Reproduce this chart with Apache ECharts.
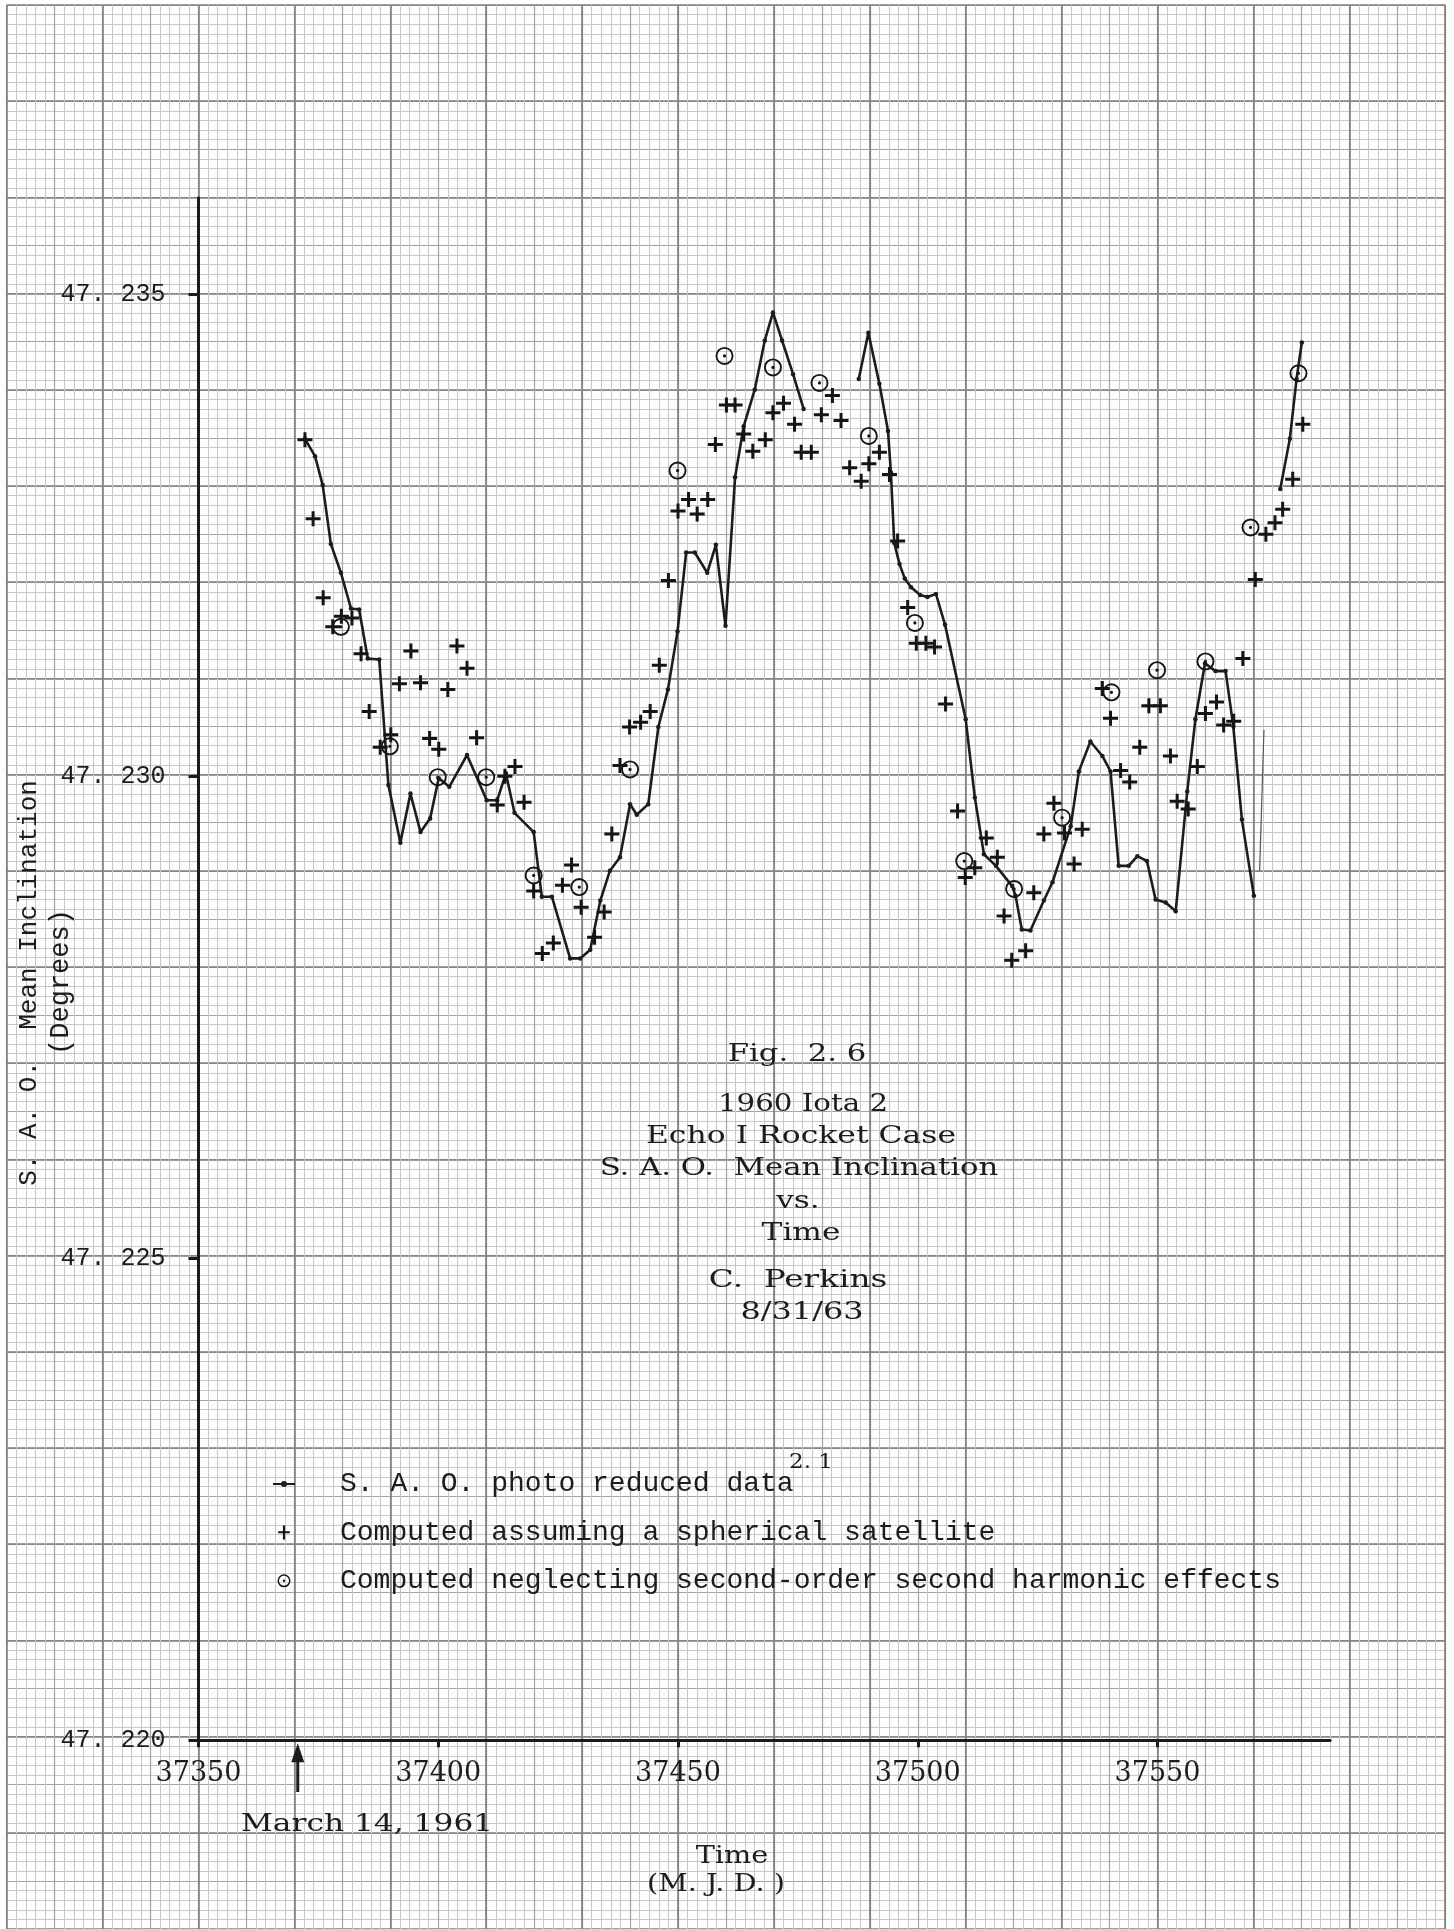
<!DOCTYPE html>
<html>
<head>
<meta charset="utf-8">
<script src="https://cdn.jsdelivr.net/npm/echarts@6/dist/echarts.min.js"></script>
<style>
html,body{margin:0;padding:0;background:#fdfdfb;}
#chart{width:1454px;height:1929px;}
</style>
</head>
<body>
<div id="chart"></div>
<script>
// ---------------- data (MJD, inclination in degrees) ----------------
const seriesNames = [
  'S. A. O. photo reduced data',
  'Computed assuming a spherical satellite',
  'Computed neglecting second-order second harmonic effects'
];

const saoSeg1 = [
  [37372.2,47.2335],[37374.3,47.23332],[37375.9,47.23302],[37377.6,47.23241],[37379.7,47.23211],
  [37381.8,47.23174],[37383.5,47.23173],[37385.3,47.23122],[37387.7,47.23121],[37389.6,47.22991],
  [37392.1,47.22931],[37394.2,47.22982],[37396.3,47.22942],[37398.3,47.22956],[37400.1,47.22998],
  [37402.3,47.22989],[37406.0,47.23022],[37410.1,47.22975],[37412.3,47.22975],[37414.1,47.23003],
  [37415.9,47.22962],[37419.9,47.22942],[37421.6,47.22875],[37423.7,47.22875],[37427.5,47.22811],
  [37429.6,47.22811],[37431.7,47.2282],[37433.8,47.22871],[37435.8,47.22902],[37437.9,47.22916],
  [37440.0,47.22971],[37441.4,47.2296],[37443.8,47.22971],[37445.9,47.23051],[37447.9,47.2309],
  [37449.9,47.2315],[37451.7,47.23232],[37453.5,47.23232],[37456.1,47.23211],[37457.9,47.2324],
  [37459.9,47.23156],[37461.9,47.2331],[37463.7,47.23363],[37466.0,47.23401],[37468.1,47.23452],
  [37469.8,47.23481],[37471.7,47.23452],[37474.0,47.23417],[37476.2,47.23381]
];

const saoSeg2 = [
  [37487.7,47.23412],[37489.7,47.2346],[37492.0,47.23407],[37493.8,47.23358],[37494.4,47.23315],
  [37495.1,47.23242],[37496.2,47.2322],[37497.3,47.23205],[37498.6,47.23196],[37500.5,47.23188],
  [37502.0,47.23186],[37503.8,47.23189],[37505.7,47.23157],[37510.0,47.23059],[37511.9,47.22978],
  [37513.8,47.22919],[37516.3,47.22907],[37519.7,47.22886],[37520.4,47.22876],[37521.7,47.22841],
  [37523.5,47.2284],[37526.3,47.22871],[37528.1,47.2289],[37531.9,47.22948],[37533.6,47.23005],
  [37536.0,47.23036],[37538.5,47.23021],[37540.2,47.23005],[37541.9,47.22907],[37544.0,47.22907],
  [37545.8,47.22917],[37547.8,47.22912],[37549.6,47.22872],[37551.7,47.22869],[37553.8,47.2286],
  [37556.2,47.22984],[37557.9,47.23059],[37559.9,47.23117],[37562.1,47.23109],[37564.2,47.23109],
  [37565.8,47.23052],[37567.6,47.22955],[37570.1,47.22876]
];

const saoFaint = [[37571.3,47.22902],[37572.2,47.23048]];

const saoSeg3 = [[37575.6,47.23298],[37577.6,47.2335],[37579.0,47.23412],[37580.1,47.2345]];

const sphericalPts = [
  [37372.2,47.23349],[37373.9,47.23267],[37376.0,47.23185],[37378.0,47.23155],[37379.8,47.23166],
  [37382.0,47.23164],[37383.9,47.23127],[37385.6,47.23067],[37387.9,47.2303],[37390.1,47.23043],
  [37391.9,47.23096],[37394.3,47.2313],[37396.3,47.23097],[37398.2,47.23039],[37400.1,47.23028],
  [37402.0,47.2309],[37403.9,47.23135],[37406.0,47.23112],[37408.0,47.2304],[37412.3,47.2297],
  [37413.9,47.23],[37416.0,47.2301],[37417.9,47.22973],[37419.9,47.22881],[37421.7,47.22816],
  [37424.0,47.22827],[37425.9,47.22887],[37427.8,47.22908],[37429.8,47.22864],[37432.6,47.22833],
  [37434.6,47.22859],[37436.2,47.2294],[37437.9,47.23011],[37439.9,47.23051],[37442.2,47.23056],
  [37444.2,47.23067],[37446.1,47.23115],[37448.0,47.23203],[37450.0,47.23275],[37452.2,47.23287],
  [37454.0,47.23272],[37456.2,47.23287],[37457.8,47.23344],[37460.1,47.23385],[37461.9,47.23385],
  [37463.7,47.23355],[37465.6,47.23337],[37468.2,47.23349],[37469.8,47.23377],[37472.0,47.23387],
  [37474.3,47.23365],[37475.7,47.23336],[37477.8,47.23336],[37479.9,47.23375],[37482.2,47.23395],
  [37484.0,47.23369],[37485.8,47.2332],[37488.2,47.23306],[37489.8,47.23324],[37492.0,47.23336],
  [37494.1,47.23313],[37495.8,47.23244],[37497.9,47.23175],[37499.7,47.23138],[37501.7,47.23138],
  [37503.5,47.23134],[37505.8,47.23075],[37508.3,47.22964],[37509.9,47.22895],[37511.9,47.22905],
  [37514.3,47.22936],[37516.6,47.22916],[37518.0,47.22855],[37519.6,47.22809],[37522.5,47.22819],
  [37524.2,47.22879],[37526.3,47.2294],[37528.4,47.22972],[37530.6,47.22941],[37532.6,47.22909],
  [37534.3,47.22945],[37538.5,47.23091],[37540.2,47.2306],[37542.3,47.23006],[37544.2,47.22994],
  [37546.3,47.2303],[37548.2,47.23073],[37550.6,47.23073],[37552.7,47.23021],[37554.1,47.22974],
  [37556.4,47.22966],[37558.3,47.2301],[37560.0,47.23065],[37562.3,47.23077],[37563.8,47.23053],
  [37565.9,47.23057],[37567.8,47.23122],[37570.4,47.23204],[37572.6,47.23251],[37574.5,47.23263],
  [37576.1,47.23277],[37578.2,47.23308],[37580.3,47.23365]
];

const neglectPts = [
  [37379.7,47.23155],[37389.9,47.23031],[37399.9,47.22999],[37410.0,47.22999],[37419.9,47.22897],
  [37429.4,47.22885],[37440.0,47.23007],[37449.9,47.23317],[37459.7,47.23436],[37469.8,47.23424],
  [37479.5,47.23408],[37489.8,47.23353],[37499.4,47.23159],[37509.7,47.22912],[37520.1,47.22883],
  [37530.1,47.22957],[37540.4,47.23087],[37549.9,47.2311],[37560.0,47.23119],[37569.4,47.23258],
  [37579.4,47.23418]
];

const xAxisRange = [37350, 37586, 50];       // min, max, interval
const yAxisRange = [47.220, 47.236, 0.005];  // min, max, interval
const xTickValues = [37350, 37400, 37450, 37500, 37550];
const yTickValues = [47.220, 47.225, 47.230, 47.235];
const arrowDate = [37370.7];                 // arrow marked "March 14, 1961"

const titleLines = ['Fig.  2. 6', '1960 Iota 2', 'Echo I Rocket Case', 'S. A. O.  Mean Inclination', 'vs.', 'Time', 'C.  Perkins', '8/31/63'];
const yTitleLines = ['S. A. O.  Mean Inclination', '(Degrees)'];
const xTitleLines = ['Time', '(M. J. D. )'];
const dateNote = ['March 14, 1961'];
const refNote = ['2. 1'];

// ---------------- styling ----------------
const INK = '#1c1c1c';
const SERIF = '"DejaVu Serif", "Liberation Serif", serif';
const MONO = '"Liberation Mono", "DejaVu Sans Mono", monospace';

const plusPath = 'path://M5.6,0H8.4V5.6H14V8.4H8.4V14H5.6V8.4H0V5.6H5.6Z';
const ringPath = 'path://M10,0A10,10 0 0,1 20,10A10,10 0 0,1 10,20A10,10 0 0,1 0,10A10,10 0 0,1 10,0Z' +
  'M10,2.1A7.9,7.9 0 0,0 2.1,10A7.9,7.9 0 0,0 10,17.9A7.9,7.9 0 0,0 17.9,10A7.9,7.9 0 0,0 10,2.1Z' +
  'M10,8.2A1.8,1.8 0 0,1 11.8,10A1.8,1.8 0 0,1 10,11.8A1.8,1.8 0 0,1 8.2,10A1.8,1.8 0 0,1 10,8.2Z';

const legLineIcon = 'path://M0,0M28,14M3,5.9H25V8.1H3Z M14,4A3,3 0 0,1 17,7A3,3 0 0,1 14,10A3,3 0 0,1 11,7A3,3 0 0,1 14,4Z';
const legPlusIcon = 'path://M0,0M28,14M12.9,0H15.1V5.9H19.8V7.9H15.1V14H12.9V7.9H8.2V5.9H12.9Z';
const legRingIcon = 'path://M0,0M28,14M14,0.5A6.5,6.5 0 0,1 20.5,7A6.5,6.5 0 0,1 14,13.5A6.5,6.5 0 0,1 7.5,7A6.5,6.5 0 0,1 14,0.5Z' +
  'M14,2A5,5 0 0,0 9,7A5,5 0 0,0 14,12A5,5 0 0,0 19,7A5,5 0 0,0 14,2Z' +
  'M14,5.8A1.2,1.2 0 0,1 15.2,7A1.2,1.2 0 0,1 14,8.2A1.2,1.2 0 0,1 12.8,7A1.2,1.2 0 0,1 14,5.8Z';

// graph-paper geometry
const PAPER = {left: 6.7, top: 5, cellX: 95.9, cellY: 96.4, nx: 15, ny: 20};

function paperAxis(gridIndex, max, interval, major) {
  return {
    type: 'value', gridIndex: gridIndex, min: 0, max: max, interval: interval,
    axisLine: {show: false}, axisTick: {show: false}, axisLabel: {show: false},
    splitLine: {show: true, lineStyle: {color: major ? '#7e7e7e' : '#a4a4a4', width: major ? 1.6 : 1.2}},
    minorTick: {show: false, splitNumber: 5},
    minorSplitLine: {show: !major, lineStyle: {color: '#c8c8c8', width: 1}},
    silent: true
  };
}

const chart = echarts.init(document.getElementById('chart'), null, {renderer: 'canvas'});

const lineCommon = {
  type: 'line', xAxisIndex: 2, yAxisIndex: 2,
  symbol: 'circle', symbolSize: 4.5, showSymbol: true,
  lineStyle: {color: INK, width: 2.6},
  itemStyle: {color: INK},
  z: 4, silent: true
};

const option = {
  animation: false,
  backgroundColor: '#fdfdfb',
  grid: [
    {left: PAPER.left, top: PAPER.top, width: PAPER.cellX * PAPER.nx, height: PAPER.cellY * PAPER.ny},
    {left: PAPER.left + 2 * PAPER.cellX, top: PAPER.top + 2 * PAPER.cellY,
     width: (xAxisRange[1] - xAxisRange[0]) / 20 * PAPER.cellX,
     height: (yAxisRange[1] - yAxisRange[0]) / 0.001 * PAPER.cellY}
  ],
  xAxis: [
    paperAxis(0, PAPER.nx, 0.5, false),
    paperAxis(0, PAPER.nx, 1, true),
    {
      type: 'value', gridIndex: 1, min: xAxisRange[0], max: xAxisRange[1], interval: xAxisRange[2],
      axisLine: {show: true, onZero: false, lineStyle: {color: INK, width: 3}},
      axisTick: {show: true, length: 7, lineStyle: {color: INK, width: 3}, customValues: xTickValues},
      axisLabel: {color: INK, fontFamily: SERIF, fontSize: 27, margin: 20, customValues: xTickValues,
        formatter: v => String(v)},
      splitLine: {show: false}
    }
  ],
  yAxis: [
    paperAxis(0, PAPER.ny, 0.5, false),
    paperAxis(0, PAPER.ny, 1, true),
    {
      type: 'value', gridIndex: 1, min: yAxisRange[0], max: yAxisRange[1], interval: yAxisRange[2],
      axisLine: {show: true, onZero: false, lineStyle: {color: INK, width: 3}},
      axisTick: {show: true, length: 10, lineStyle: {color: INK, width: 3}, customValues: yTickValues},
      axisLabel: {color: INK, fontFamily: MONO, fontSize: 25, margin: 33, customValues: yTickValues,
        formatter: v => v.toFixed(3).replace('.', '. ')},
      splitLine: {show: false}
    }
  ],
  legend: {
    orient: 'vertical', left: 265, top: 1464, itemWidth: 28, itemHeight: 14, itemGap: 18.4,
    selectedMode: false,
    data: [
      {name: seriesNames[0], icon: legLineIcon},
      {name: seriesNames[1], icon: legPlusIcon},
      {name: seriesNames[2], icon: legRingIcon}
    ],
    formatter: name => '{g|}{t|' + name + '}',
    textStyle: {
      color: INK, fontFamily: MONO, fontSize: 28, lineHeight: 30,
      rich: {g: {width: 37}, t: {color: INK, fontFamily: MONO, fontSize: 28, lineHeight: 30}}
    }
  },
  series: [
    Object.assign({}, lineCommon, {name: seriesNames[0], data: saoSeg1}),
    Object.assign({}, lineCommon, {name: seriesNames[0], data: saoSeg2}),
    Object.assign({}, lineCommon, {name: seriesNames[0], data: saoSeg3}),
    {type: 'line', name: 'faint', xAxisIndex: 2, yAxisIndex: 2, data: saoFaint, symbol: 'none',
     lineStyle: {color: '#555', width: 1.2}, z: 3, silent: true},
    {type: 'scatter', name: seriesNames[1], xAxisIndex: 2, yAxisIndex: 2, data: sphericalPts,
     symbol: plusPath, symbolSize: 15, itemStyle: {color: '#151515', opacity: 1}, z: 5, silent: true},
    {type: 'scatter', name: seriesNames[2], xAxisIndex: 2, yAxisIndex: 2, data: neglectPts,
     symbol: ringPath, symbolSize: 18, itemStyle: {color: '#151515', opacity: 1}, z: 6, silent: true}
  ]
};

chart.setOption(option);

// ---------------- annotations (real text) ----------------
function serifText(text, x, y, size, align, sx) {
  return {
    type: 'text', x: x, y: y, scaleX: sx || 1.25, silent: true, z: 10,
    style: {text: text, x: 0, y: 0, font: size + 'px ' + SERIF, fill: INK,
            textAlign: align || 'center', textVerticalAlign: 'middle', verticalAlign: 'middle'}
  };
}
const titleY = [1055, 1105, 1137, 1169, 1202, 1234, 1281, 1313];
const titleX = [797, 803, 801, 799, 798, 801, 798, 802];
const titleScale = [1.28, 1.22, 1.31, 1.28, 1.3, 1.3, 1.36, 1.33];
const g = [];
titleLines.forEach((t, i) => g.push(serifText(t, titleX[i], titleY[i], 24, 'center', titleScale[i])));

// y-axis title (rotated, typewriter mono)
g.push({type: 'text', x: 29, y: 983, rotation: Math.PI / 2, silent: true, z: 10,
  style: {text: yTitleLines[0], x: 0, y: 0, font: '26px ' + MONO, fill: INK, textAlign: 'center', verticalAlign: 'middle', textVerticalAlign: 'middle'}});
g.push({type: 'text', x: 61, y: 982, rotation: Math.PI / 2, silent: true, z: 10,
  style: {text: yTitleLines[1], x: 0, y: 0, font: '27px ' + MONO, fill: INK, textAlign: 'center', verticalAlign: 'middle', textVerticalAlign: 'middle'}});

// x-axis title
g.push(serifText(xTitleLines[0], 732, 1856, 25, 'center', 1.15));
g.push(serifText(xTitleLines[1], 716, 1884, 25, 'center', 1.15));

// superscript reference on first legend item
g.push(serifText(refNote[0], 789, 1463, 20, 'left', 1.15));

// March 14, 1961 arrow
const ax = chart.convertToPixel({xAxisIndex: 2, yAxisIndex: 2}, [arrowDate[0], yAxisRange[0]]);
g.push({type: 'line', silent: true, z: 10, shape: {x1: ax[0], y1: 1792, x2: ax[0], y2: 1758},
  style: {stroke: INK, lineWidth: 3}});
g.push({type: 'polygon', silent: true, z: 10,
  shape: {points: [[ax[0], ax[1] + 3], [ax[0] - 6.5, ax[1] + 22], [ax[0] + 6.5, ax[1] + 22]]},
  style: {fill: INK}});
g.push(serifText(dateNote[0], 367, 1824, 25, 'center', 1.25));

chart.setOption({graphic: g});
</script>
</body>
</html>
